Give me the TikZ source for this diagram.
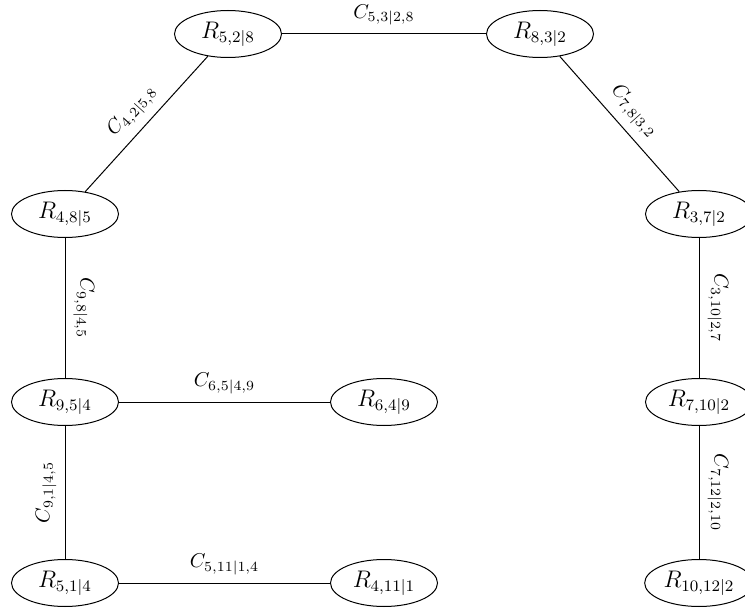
\documentclass[tikz,border=0pt]{standalone}
\usetikzlibrary{shapes.geometric}
\begin{document}
\begin{tikzpicture}[x=0.5pt,y=-0.5pt,
  region/.style={ellipse,draw,line width=0.5pt,minimum width=53.5pt,minimum height=23.5pt,inner sep=1.5pt,font=\large},
  link/.style={draw,line width=0.5pt},
  tag/.style={sloped,above,inner sep=4pt}]
\useasboundingbox (0,0) rectangle (745,615);
% regions
\node[region] (r528)  at (228,34)  {$R_{5,2|8}$};
\node[region] (r832)  at (540,34)  {$R_{8,3|2}$};
\node[region] (r485)  at (65,214)  {$R_{4,8|5}$};
\node[region] (r372)  at (699,214) {$R_{3,7|2}$};
\node[region] (r954)  at (65,402)  {$R_{9,5|4}$};
\node[region] (r649)  at (384,402) {$R_{6,4|9}$};
\node[region] (r7102) at (699,402) {$R_{7,10|2}$};
\node[region] (r514)  at (65,583)  {$R_{5,1|4}$};
\node[region] (r4111) at (384,583) {$R_{4,11|1}$};
\node[region] (r10122) at (699,583) {$R_{10,12|2}$};
% connections
\path[link] (r528) -- node[tag] {$C_{5,3|2,8}$} (r832);
\path[link] (r485) -- node[tag] {$C_{4,2|5,8}$} (r528);
\path[link] (r832) -- node[tag] {$C_{7,8|3,2}$} (r372);
\path[link] (r485) -- node[tag] {$C_{9,8|4,5}$} (r954);
\path[link] (r372) -- node[tag] {$C_{3,10|2,7}$} (r7102);
\path[link] (r7102) -- node[tag] {$C_{7,12|2,10}$} (r10122);
\path[link] (r954) -- node[tag] {$C_{6,5|4,9}$} (r649);
\path[link] (r514) -- node[tag] {$C_{9,1|4,5}$} (r954);
\path[link] (r514) -- node[tag] {$C_{5,11|1,4}$} (r4111);
\end{tikzpicture}
\end{document}
